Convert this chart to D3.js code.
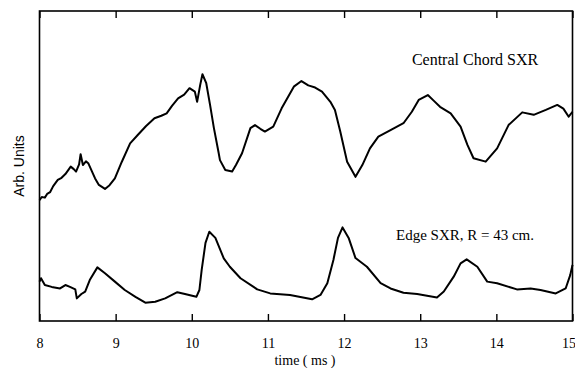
<!DOCTYPE html>
<html>
<head>
<meta charset="utf-8">
<script src="https://cdn.jsdelivr.net/npm/d3@7"></script>
<style>
  html, body { margin: 0; padding: 0; background: #fff; }
  svg { display: block; }
</style>
</head>
<body>
<svg id="chart" width="575" height="368"></svg>
<script>
// Time axis (ms)
const xTicks = [8, 9, 10, 11, 12, 13, 14, 15];

// Central chord soft X-ray signal (arb. units)
const centralTime = [8.00, 8.03, 8.07, 8.10, 8.14, 8.18, 8.24, 8.29, 8.34, 8.41, 8.45, 8.48, 8.52, 8.54, 8.57, 8.61, 8.64, 8.73, 8.78, 8.86, 8.92, 8.99, 9.08, 9.19, 9.29, 9.40, 9.51, 9.60, 9.67, 9.74, 9.82, 9.90, 9.97, 10.04, 10.07, 10.11, 10.14, 10.19, 10.24, 10.29, 10.35, 10.37, 10.44, 10.53, 10.58, 10.66, 10.77, 10.83, 10.90, 10.96, 11.07, 11.18, 11.34, 11.44, 11.53, 11.62, 11.71, 11.82, 11.88, 11.95, 12.04, 12.15, 12.24, 12.34, 12.45, 12.61, 12.78, 12.89, 12.98, 13.10, 13.18, 13.26, 13.40, 13.53, 13.62, 13.70, 13.86, 14.01, 14.16, 14.34, 14.49, 14.65, 14.80, 14.88, 14.95, 15.00];
const centralValue = [3.90, 4.00, 3.98, 4.10, 4.16, 4.35, 4.55, 4.62, 4.74, 4.98, 4.90, 4.82, 5.05, 5.38, 5.03, 5.15, 5.09, 4.60, 4.39, 4.26, 4.38, 4.60, 5.13, 5.73, 6.00, 6.29, 6.54, 6.62, 6.70, 6.94, 7.18, 7.30, 7.51, 7.40, 7.07, 7.61, 7.96, 7.67, 6.97, 6.23, 5.46, 5.19, 4.87, 4.82, 5.03, 5.41, 6.22, 6.32, 6.20, 6.11, 6.27, 6.86, 7.56, 7.74, 7.60, 7.53, 7.40, 7.07, 6.81, 6.11, 5.14, 4.65, 5.03, 5.57, 5.95, 6.16, 6.38, 6.75, 7.13, 7.29, 7.10, 6.91, 6.70, 6.27, 5.68, 5.25, 5.14, 5.57, 6.32, 6.73, 6.65, 6.81, 6.97, 6.85, 6.59, 6.75];

// Edge soft X-ray signal, R = 43 cm (arb. units)
const edgeTime = [8.00, 8.02, 8.07, 8.16, 8.27, 8.34, 8.40, 8.47, 8.49, 8.55, 8.60, 8.66, 8.76, 8.86, 8.99, 9.12, 9.26, 9.39, 9.52, 9.65, 9.81, 9.91, 10.06, 10.10, 10.13, 10.18, 10.23, 10.31, 10.42, 10.50, 10.64, 10.86, 11.03, 11.29, 11.58, 11.69, 11.78, 11.86, 11.92, 11.98, 12.06, 12.15, 12.30, 12.48, 12.61, 12.78, 12.96, 13.22, 13.31, 13.44, 13.53, 13.61, 13.75, 13.88, 14.01, 14.27, 14.45, 14.58, 14.78, 14.91, 14.97, 15.00];
const edgeValue = [1.27, 1.38, 1.16, 1.10, 1.05, 1.16, 1.10, 1.02, 0.73, 0.87, 0.95, 1.32, 1.73, 1.54, 1.27, 1.00, 0.78, 0.59, 0.62, 0.73, 0.93, 0.87, 0.78, 1.00, 1.65, 2.52, 2.88, 2.68, 2.02, 1.75, 1.38, 1.02, 0.89, 0.84, 0.70, 0.84, 1.22, 1.97, 2.68, 3.02, 2.68, 2.03, 1.75, 1.22, 1.05, 0.91, 0.87, 0.76, 0.95, 1.43, 1.86, 1.99, 1.75, 1.27, 1.22, 1.02, 1.05, 1.00, 0.89, 1.05, 1.48, 1.81];

const svg = d3.select("#chart");
const plotLeft = 39.5, plotRight = 572.5, plotTop = 11, plotBottom = 321;

const x = d3.scaleLinear().domain([8, 15]).range([plotLeft, plotRight]);
const y = d3.scaleLinear().domain([0, 10]).range([plotBottom, plotTop]);

const serif = "'Liberation Serif', 'DejaVu Serif', serif";

// Plot frame
svg.append("rect")
  .attr("x", plotLeft).attr("y", plotTop)
  .attr("width", plotRight - plotLeft).attr("height", plotBottom - plotTop)
  .attr("fill", "none").attr("stroke", "#000").attr("stroke-width", 1.6);

// Bottom axis: inward ticks with labels
const bottomAxis = svg.append("g")
  .attr("transform", `translate(0,${plotBottom})`)
  .call(d3.axisBottom(x).tickValues(xTicks).tickSizeInner(-7).tickSizeOuter(0).tickPadding(17).tickFormat(d3.format("d")));
bottomAxis.select(".domain").remove();
bottomAxis.selectAll("line").attr("stroke-width", 1.4);
bottomAxis.selectAll("text")
  .attr("font-family", serif).attr("font-size", 14).attr("fill", "#000");
// keep the last label inside the page edge
bottomAxis.selectAll(".tick").filter(d => d === 15).select("text")
  .attr("text-anchor", "end").attr("dx", 3);

// Top axis: inward ticks only
const topAxis = svg.append("g")
  .attr("transform", `translate(0,${plotTop})`)
  .call(d3.axisTop(x).tickValues(xTicks).tickSizeInner(-7).tickSizeOuter(0).tickFormat(""));
topAxis.select(".domain").remove();
topAxis.selectAll("line").attr("stroke-width", 1.4);

// Traces
const line = d3.line()
  .x(d => x(d[0]))
  .y(d => y(d[1]));

const central = centralTime.map((t, i) => [t, centralValue[i]]);
const edge = edgeTime.map((t, i) => [t, edgeValue[i]]);

svg.append("path").datum(central)
  .attr("d", line).attr("fill", "none")
  .attr("stroke", "#000").attr("stroke-width", 2).attr("stroke-linejoin", "round");

svg.append("path").datum(edge)
  .attr("d", line).attr("fill", "none")
  .attr("stroke", "#000").attr("stroke-width", 2).attr("stroke-linejoin", "round");

// Trace labels
svg.append("text")
  .attr("x", 475).attr("y", 65)
  .attr("text-anchor", "middle")
  .attr("font-family", serif).attr("font-size", 16)
  .text("Central Chord SXR");

svg.append("text")
  .attr("x", 465).attr("y", 240)
  .attr("text-anchor", "middle")
  .attr("font-family", serif).attr("font-size", 15)
  .text("Edge SXR, R = 43 cm.");

// Axis titles
svg.append("text")
  .attr("x", 305).attr("y", 365)
  .attr("text-anchor", "middle")
  .attr("font-family", serif).attr("font-size", 14)
  .text("time ( ms )");

svg.append("text")
  .attr("transform", "translate(24,166) rotate(-90)")
  .attr("text-anchor", "middle")
  .attr("font-family", "'Liberation Sans', Arial, sans-serif").attr("font-size", 14)
  .text("Arb. Units");
</script>
</body>
</html>
